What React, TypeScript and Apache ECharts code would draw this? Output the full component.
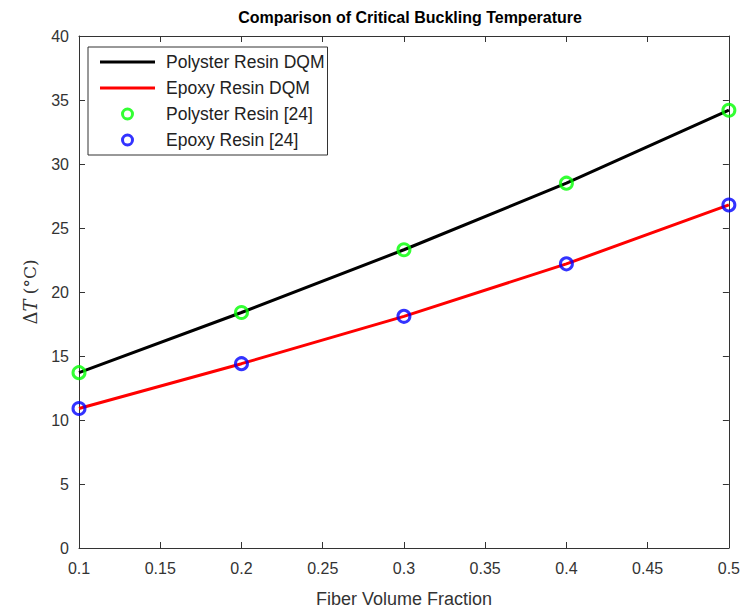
import React, { useEffect, useRef } from "react";
import * as echarts from "echarts";

const fractions = [0.1, 0.2, 0.3, 0.4, 0.5];
const polysterDQM = [13.7, 18.4, 23.3, 28.5, 34.2];
const epoxyDQM = [10.9, 14.4, 18.1, 22.2, 26.8];
const polysterRef = [13.7, 18.4, 23.3, 28.5, 34.2];
const epoxyRef = [10.9, 14.4, 18.1, 22.2, 26.8];

const pairs = (ys: number[]) => fractions.map((x, i) => [x, ys[i]]);

export default function App() {
  const ref = useRef<HTMLDivElement>(null);
  useEffect(() => {
    if (!ref.current) return;
    const chart = echarts.init(ref.current, null, { renderer: "svg" });
    const axisColor = "#333";
    const font = "Liberation Sans, Arial, sans-serif";
    const lineIcon = "path://M0,0H55V3H0Z";
    const ringIcon = "path://M0,0m-6,0a6,6 0 1,0 12,0a6,6 0 1,0 -12,0";
    chart.setOption({
      animation: false,
      backgroundColor: "#fff",
      title: {
        text: "Comparison of Critical Buckling Temperature",
        left: 405,
        textAlign: "center",
        top: 4,
        textStyle: { fontFamily: font, fontSize: 16, fontWeight: "bold", color: "#000" },
      },
      grid: { left: 79, right: 12, top: 36, bottom: 66 },
      legend: {
        left: 88,
        top: 47,
        orient: "vertical",
        backgroundColor: "#fff",
        borderColor: "#333",
        borderWidth: 1,
        borderRadius: 0,
        padding: [6, 3, 6, 12],
        itemWidth: 55,
        itemHeight: 10,
        itemGap: 8,
        textStyle: {
          fontFamily: font,
          fontSize: 17.5,
          lineHeight: 18,
          color: "#222",
          padding: [0, 0, 0, 6],
        },
        data: [
          { name: "Polyster Resin DQM", icon: lineIcon, itemStyle: { color: "#000" } },
          { name: "Epoxy Resin DQM", icon: lineIcon, itemStyle: { color: "#ff0000" } },
          {
            name: "Polyster Resin [24]",
            icon: ringIcon,
            itemStyle: { color: "rgba(0,0,0,0)", borderColor: "#00ff00", borderWidth: 3 },
          },
          {
            name: "Epoxy Resin [24]",
            icon: ringIcon,
            itemStyle: { color: "rgba(0,0,0,0)", borderColor: "#0000ff", borderWidth: 3 },
          },
        ],
      },
      xAxis: [
        {
          type: "value",
          min: 0.1,
          max: 0.5,
          interval: 0.05,
          name: "Fiber Volume Fraction",
          nameLocation: "middle",
          nameGap: 42,
          nameTextStyle: { fontFamily: font, fontSize: 18, color: "#333" },
          axisLine: { show: true, onZero: false, lineStyle: { color: axisColor, width: 1 } },
          axisTick: { show: true, inside: true, length: 6, lineStyle: { color: axisColor } },
          axisLabel: {
            fontFamily: font,
            fontSize: 16,
            color: "#333",
            margin: 12,
            formatter: (v: number) => String(Math.round(v * 100) / 100),
          },
          splitLine: { show: false },
        },
        {
          type: "value",
          position: "top",
          min: 0.1,
          max: 0.5,
          interval: 0.05,
          axisLine: { show: true, onZero: false, lineStyle: { color: axisColor, width: 1 } },
          axisTick: { show: true, inside: true, length: 6, lineStyle: { color: axisColor } },
          axisLabel: { show: false },
          splitLine: { show: false },
        },
      ],
      yAxis: [
        {
          type: "value",
          min: 0,
          max: 40,
          interval: 5,
          name: "{d|Δ}{t|T}{c| (°C)}",
          nameLocation: "middle",
          nameGap: 40,
          nameRotate: 90,
          nameTextStyle: {
            color: "#333",
            rich: {
              d: { fontFamily: "DejaVu Serif, serif", fontSize: 18, color: "#333" },
              t: { fontFamily: "DejaVu Serif, serif", fontStyle: "italic", fontSize: 18, color: "#333" },
              c: { fontFamily: "DejaVu Serif, serif", fontSize: 17, color: "#333" },
            },
          },
          axisLine: { show: true, onZero: false, lineStyle: { color: axisColor, width: 1 } },
          axisTick: { show: true, inside: true, length: 6, lineStyle: { color: axisColor } },
          axisLabel: { fontFamily: font, fontSize: 16, color: "#333", margin: 10 },
          splitLine: { show: false },
        },
        {
          type: "value",
          position: "right",
          min: 0,
          max: 40,
          interval: 5,
          axisLine: { show: true, onZero: false, lineStyle: { color: axisColor, width: 1 } },
          axisTick: { show: true, inside: true, length: 6, lineStyle: { color: axisColor } },
          axisLabel: { show: false },
          splitLine: { show: false },
        },
      ],
      series: [
        {
          name: "Polyster Resin DQM",
          type: "line",
          data: pairs(polysterDQM),
          symbol: "none",
          lineStyle: { color: "#000", width: 3 },
          itemStyle: { color: "#000" },
          z: 2,
        },
        {
          name: "Epoxy Resin DQM",
          type: "line",
          data: pairs(epoxyDQM),
          symbol: "none",
          lineStyle: { color: "#ff0000", width: 3 },
          itemStyle: { color: "#ff0000" },
          z: 2,
        },
        {
          name: "Polyster Resin [24]",
          type: "scatter",
          data: pairs(polysterRef),
          symbol: "circle",
          symbolSize: 12,
          itemStyle: { color: "rgba(0,0,0,0)", borderColor: "#00ff00", borderWidth: 3 },
          z: 3,
        },
        {
          name: "Epoxy Resin [24]",
          type: "scatter",
          data: pairs(epoxyRef),
          symbol: "circle",
          symbolSize: 12,
          itemStyle: { color: "rgba(0,0,0,0)", borderColor: "#0000ff", borderWidth: 3 },
          z: 3,
        },
      ],
    });
    return () => chart.dispose();
  }, []);
  return (
    <div
      ref={ref}
      style={{ position: "absolute", left: 0, top: 0, width: 743, height: 614 }}
    />
  );
}
